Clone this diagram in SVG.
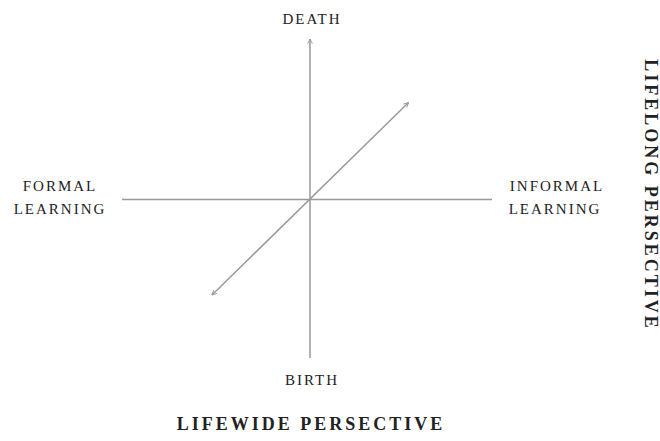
<svg xmlns="http://www.w3.org/2000/svg" width="660" height="441" viewBox="0 0 660 441">
<style>
.lbl{font-family:"Liberation Serif","Times New Roman",serif;font-size:15px;fill:#222;letter-spacing:2px;text-anchor:middle}
.ttl{font-family:"Liberation Serif","Times New Roman",serif;font-size:18px;font-weight:bold;fill:#222;letter-spacing:3px;text-anchor:middle}
.ax{stroke:#999;stroke-width:1.5;fill:none}
</style>
<defs>
<marker id="ah" viewBox="0 0 10 10" refX="9" refY="5" markerWidth="6" markerHeight="6" markerUnits="userSpaceOnUse" orient="auto-start-reverse">
<path d="M1,1 L9,5 L1,9" fill="none" stroke="#999" stroke-width="1.5"/>
</marker>
</defs>
<rect width="660" height="441" fill="#fff"/>
<g id="connectors">
<line class="ax" x1="310" y1="358" x2="310" y2="39" marker-end="url(#ah)"/>
<line class="ax" x1="122" y1="199.5" x2="492" y2="199.5"/>
<line class="ax" x1="212" y1="295" x2="408.5" y2="102.5" marker-start="url(#ah)" marker-end="url(#ah)"/>
</g>
<g id="death"><text class="lbl" x="312" y="24">DEATH</text></g>
<g id="birth"><text class="lbl" x="312" y="385">BIRTH</text></g>
<g id="formal"><text class="lbl" x="60" y="191">FORMAL</text><text class="lbl" x="60" y="214">LEARNING</text></g>
<g id="informal"><text class="lbl" x="557" y="191">INFORMAL</text><text class="lbl" x="555" y="214">LEARNING</text></g>
<g id="lifewide"><text class="ttl" x="311" y="430">LIFEWIDE PERSECTIVE</text></g>
<g id="lifelong"><text class="ttl" transform="translate(645,195) rotate(90)" x="0" y="0">LIFELONG PERSECTIVE</text></g>
</svg>
